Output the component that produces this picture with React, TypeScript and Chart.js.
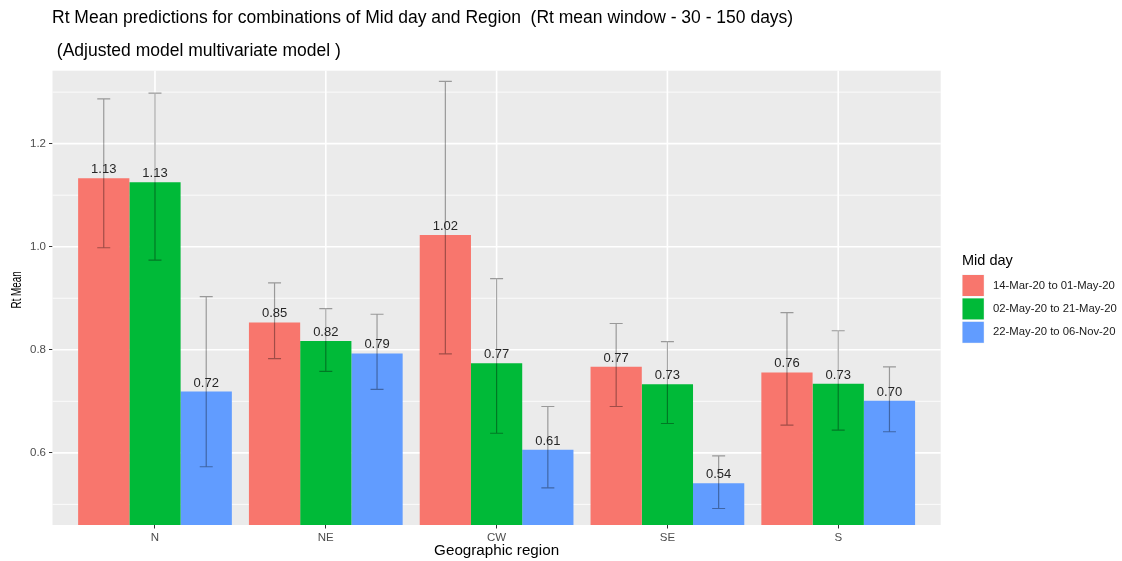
import React, { useEffect, useRef } from 'react';
import { Chart, registerables } from 'chart.js';

Chart.register(...registerables);

const regions = ['N', 'NE', 'CW', 'SE', 'S'];
const periods = ['14-Mar-20 to 01-May-20', '02-May-20 to 21-May-20', '22-May-20 to 06-Nov-20'];

const meanP1 = [1.133, 0.853, 1.023, 0.767, 0.756];
const lowerP1 = [0.998, 0.783, 0.792, 0.690, 0.654];
const upperP1 = [1.287, 0.930, 1.321, 0.851, 0.872];

const meanP2 = [1.125, 0.817, 0.774, 0.733, 0.734];
const lowerP2 = [0.974, 0.758, 0.638, 0.657, 0.644];
const upperP2 = [1.298, 0.880, 0.938, 0.816, 0.837];

const meanP3 = [0.719, 0.793, 0.606, 0.541, 0.701];
const lowerP3 = [0.573, 0.723, 0.532, 0.492, 0.641];
const upperP3 = [0.903, 0.869, 0.690, 0.594, 0.767];

const yMajorTicks = [0.6, 0.8, 1.0, 1.2];
const yMinorTicks = [0.5, 0.7, 0.9, 1.1, 1.3];

const seriesColors = ['#F8766D', '#00BA38', '#619CFF'];

const titleText = 'Rt Mean predictions for combinations of Mid day and Region  (Rt mean window - 30 - 150 days)';
const subtitleText = ' (Adjusted model multivariate model )';
const legendTitle = 'Mid day';
const xTitle = 'Geographic region';
const yTitle = 'Rt Mean';

const FONT = '"Liberation Sans", Arial, Helvetica, sans-serif';

const means = [meanP1, meanP2, meanP3];
const lowers = [lowerP1, lowerP2, lowerP3];
const uppers = [upperP1, upperP2, upperP3];

const ggPlugin = {
  id: 'ggStyle',
  beforeDatasetsDraw(chart: any) {
    const { ctx, chartArea: a, scales } = chart;
    const x = scales.x;
    const y = scales.y;
    ctx.save();
    ctx.fillStyle = '#EBEBEB';
    ctx.fillRect(a.left, a.top, a.right - a.left, a.bottom - a.top);
    ctx.strokeStyle = '#FFFFFF';
    ctx.lineWidth = 0.8;
    yMinorTicks.forEach((v) => {
      const py = y.getPixelForValue(v);
      ctx.beginPath();
      ctx.moveTo(a.left, py);
      ctx.lineTo(a.right, py);
      ctx.stroke();
    });
    ctx.lineWidth = 1.6;
    yMajorTicks.forEach((v) => {
      const py = y.getPixelForValue(v);
      ctx.beginPath();
      ctx.moveTo(a.left, py);
      ctx.lineTo(a.right, py);
      ctx.stroke();
    });
    regions.forEach((_, i) => {
      const px = x.getPixelForValue(i);
      ctx.beginPath();
      ctx.moveTo(px, a.top);
      ctx.lineTo(px, a.bottom);
      ctx.stroke();
    });
    ctx.restore();
  },
  afterDatasetsDraw(chart: any) {
    const { ctx, scales } = chart;
    const y = scales.y;
    ctx.save();
    ctx.strokeStyle = 'rgba(0,0,0,0.35)';
    ctx.lineWidth = 1.2;
    means.forEach((_, d) => {
      const meta = chart.getDatasetMeta(d);
      meta.data.forEach((bar: any, i: number) => {
        const cx = bar.x;
        const yh = y.getPixelForValue(uppers[d][i]);
        const yl = y.getPixelForValue(lowers[d][i]);
        const hw = 6.5;
        ctx.beginPath();
        ctx.moveTo(cx, yh);
        ctx.lineTo(cx, yl);
        ctx.moveTo(cx - hw, yh);
        ctx.lineTo(cx + hw, yh);
        ctx.moveTo(cx - hw, yl);
        ctx.lineTo(cx + hw, yl);
        ctx.stroke();
      });
    });
    ctx.fillStyle = '#262626';
    ctx.font = `13px ${FONT}`;
    ctx.textAlign = 'center';
    ctx.textBaseline = 'alphabetic';
    means.forEach((vals, d) => {
      const meta = chart.getDatasetMeta(d);
      meta.data.forEach((bar: any, i: number) => {
        ctx.fillText(vals[i].toFixed(2), bar.x, bar.y - 5);
      });
    });
    ctx.restore();
  },
  afterDraw(chart: any) {
    const { ctx, chartArea: a } = chart;
    ctx.save();
    ctx.fillStyle = '#000000';
    ctx.textAlign = 'left';
    ctx.textBaseline = 'alphabetic';
    ctx.font = `17.5px ${FONT}`;
    ctx.fillText(titleText, 52, 23);
    ctx.fillText(subtitleText, 52, 56);

    // y axis title (condensed, rotated)
    ctx.save();
    ctx.translate(17, (a.top + a.bottom) / 2 - 8);
    ctx.rotate(-Math.PI / 2);
    ctx.scale(0.68, 1);
    ctx.font = `14.5px ${FONT}`;
    ctx.textAlign = 'center';
    ctx.textBaseline = 'middle';
    ctx.fillText(yTitle, 0, 0);
    ctx.restore();

    // legend
    ctx.font = `14.5px ${FONT}`;
    ctx.fillText(legendTitle, 962, 265);
    ctx.font = `11.3px ${FONT}`;
    ctx.textBaseline = 'middle';
    periods.forEach((p, i) => {
      const ky = 274.5 + i * 23.4;
      ctx.fillStyle = '#F2F2F2';
      ctx.fillRect(962, ky, 22.3, 22);
      ctx.fillStyle = seriesColors[i];
      ctx.fillRect(962.5, ky + 0.5, 21.3, 21);
      ctx.fillStyle = '#1A1A1A';
      ctx.fillText(p, 993, ky + 11);
    });
    ctx.restore();
  },
};

export default function App() {
  const canvasRef = useRef<HTMLCanvasElement | null>(null);

  useEffect(() => {
    if (!canvasRef.current) return;
    const chart = new Chart(canvasRef.current, {
      type: 'bar',
      data: {
        datasets: periods.map((p, d) => ({
          label: p,
          data: regions.map((_, i) => ({ x: i, y: means[d][i] })),
          backgroundColor: seriesColors[d],
          borderWidth: 0,
          categoryPercentage: 0.9,
          barPercentage: 1.0,
        })),
      },
      options: {
        responsive: false,
        animation: false,
        devicePixelRatio: 1,
        layout: { padding: { top: 70.7, right: 181.3, left: 0, bottom: 0 } },
        plugins: {
          legend: { display: false },
          tooltip: { enabled: false },
          title: { display: false },
        },
        scales: {
          x: {
            type: 'linear',
            min: -0.6,
            max: 4.6,
            offset: false,
            afterBuildTicks: (s: any) => {
              s.ticks = regions.map((_, i) => ({ value: i }));
            },
            afterFit: (s: any) => {
              s.height = 36;
            },
            ticks: {
              callback: (v: any) => regions[Math.round(Number(v))] ?? '',
              color: '#4D4D4D',
              font: { family: FONT, size: 11.5 },
              padding: 2,
              maxRotation: 0,
              autoSkip: false,
            },
            grid: {
              offset: false,
              drawOnChartArea: false,
              drawTicks: true,
              tickLength: 3.5,
              color: '#333333',
              lineWidth: 1,
            },
            border: { display: false },
            title: {
              display: true,
              text: xTitle,
              color: '#000000',
              font: { family: FONT, size: 15.2 },
              padding: { top: 0, bottom: 1 },
            },
          },
          y: {
            type: 'linear',
            min: 0.46,
            max: 1.3416,
            afterBuildTicks: (s: any) => {
              s.ticks = yMajorTicks.map((v) => ({ value: v }));
            },
            afterFit: (s: any) => {
              s.width = 52.5;
            },
            ticks: {
              callback: (v: any) => Number(v).toFixed(1),
              color: '#4D4D4D',
              font: { family: FONT, size: 11.5 },
              padding: 3,
            },
            grid: { drawOnChartArea: false, drawTicks: true, tickLength: 3.5, color: '#333333', lineWidth: 1 },
            border: { display: false },
            title: { display: false },
          },
        },
      },
      plugins: [ggPlugin],
    } as any);
    return () => chart.destroy();
  }, []);

  return (
    <div style={{ position: 'fixed', left: 0, top: 0, width: 1122, height: 561, background: '#FFFFFF' }}>
      <canvas ref={canvasRef} width={1122} height={561} style={{ display: 'block' }} />
    </div>
  );
}
